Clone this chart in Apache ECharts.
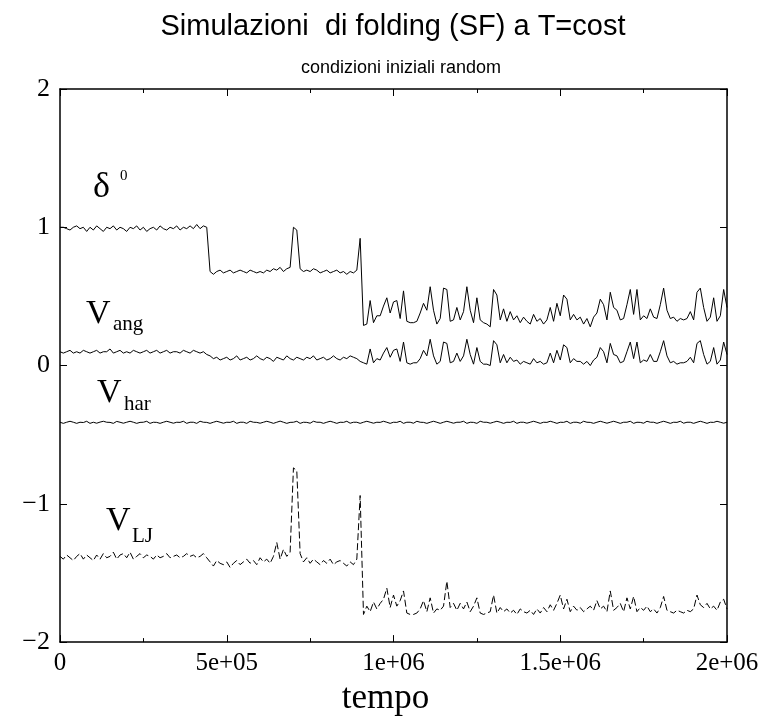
<!DOCTYPE html>
<html>
<head>
<meta charset="utf-8">
<script src="https://cdn.jsdelivr.net/npm/echarts@6/dist/echarts.min.js"></script>
<style>
  html, body { margin: 0; padding: 0; background: #fff; }
  #chart { width: 764px; height: 721px; }
</style>
</head>
<body>
<div id="chart"></div>
<script>
// Sampling step of the folding run (time units between stored frames)
const STEP = 1e4;

// Order parameter delta^0
const delta0 = [
  1.00,1.00,0.99,0.98,1.00,1.01,0.99,1.00,0.97,1.00,
  0.98,1.01,0.99,0.97,1.00,0.99,1.01,0.98,1.00,0.99,
  0.97,1.00,0.99,1.01,0.98,1.00,0.97,0.99,1.00,0.98,
  1.01,0.99,0.98,1.00,0.99,1.01,0.98,1.00,0.99,1.01,
  0.99,1.02,0.99,1.01,1.00,0.68,0.66,0.68,0.69,0.67,
  0.68,0.69,0.67,0.68,0.69,0.68,0.67,0.69,0.68,0.67,
  0.68,0.67,0.69,0.68,0.70,0.69,0.71,0.68,0.70,0.71,
  1.00,0.98,0.70,0.68,0.69,0.68,0.70,0.69,0.67,0.68,
  0.69,0.67,0.68,0.69,0.67,0.68,0.66,0.68,0.67,0.69,
  0.92,0.29,0.30,0.47,0.31,0.36,0.36,0.43,0.49,0.38,
  0.46,0.47,0.34,0.54,0.32,0.31,0.31,0.32,0.38,0.45,
  0.40,0.57,0.40,0.30,0.34,0.56,0.55,0.32,0.33,0.42,
  0.33,0.39,0.57,0.40,0.31,0.49,0.33,0.31,0.30,0.28,
  0.55,0.51,0.33,0.41,0.32,0.39,0.33,0.36,0.31,0.35,
  0.32,0.30,0.37,0.32,0.34,0.30,0.33,0.42,0.32,0.45,
  0.36,0.51,0.48,0.33,0.37,0.33,0.35,0.30,0.34,0.28,
  0.35,0.38,0.48,0.44,0.33,0.53,0.42,0.40,0.33,0.34,
  0.44,0.55,0.37,0.55,0.33,0.36,0.34,0.41,0.35,0.34,
  0.44,0.56,0.40,0.34,0.35,0.32,0.34,0.33,0.34,0.39,
  0.33,0.53,0.56,0.42,0.32,0.35,0.49,0.32,0.36,0.55,
  0.42
];

// Angular potential energy V_ang
const vAng = [
  0.10,0.09,0.10,0.11,0.09,0.10,0.09,0.11,0.10,0.09,
  0.10,0.11,0.09,0.10,0.10,0.12,0.09,0.10,0.11,0.09,
  0.10,0.09,0.11,0.10,0.09,0.10,0.11,0.09,0.10,0.11,
  0.09,0.10,0.11,0.09,0.10,0.10,0.09,0.11,0.10,0.09,
  0.11,0.10,0.09,0.10,0.08,0.07,0.05,0.06,0.04,0.05,
  0.06,0.04,0.05,0.07,0.04,0.05,0.06,0.04,0.05,0.07,
  0.05,0.04,0.06,0.05,0.03,0.06,0.05,0.04,0.07,0.05,
  0.04,0.06,0.05,0.04,0.06,0.05,0.07,0.04,0.05,0.06,
  0.04,0.05,0.07,0.05,0.04,0.06,0.05,0.07,0.06,0.05,
  0.03,0.02,0.01,0.12,0.02,0.05,0.04,0.09,0.13,0.06,
  0.11,0.12,0.03,0.17,0.02,0.01,0.02,0.02,0.05,0.11,
  0.07,0.19,0.07,0.01,0.03,0.17,0.16,0.02,0.03,0.09,
  0.03,0.07,0.19,0.08,0.01,0.13,0.03,0.01,0.01,0.00,
  0.18,0.15,0.02,0.08,0.02,0.06,0.03,0.04,0.01,0.03,
  0.02,0.01,0.05,0.02,0.03,0.01,0.02,0.09,0.02,0.11,
  0.04,0.15,0.13,0.02,0.05,0.03,0.03,0.01,0.03,0.00,
  0.04,0.06,0.13,0.10,0.02,0.16,0.08,0.07,0.02,0.03,
  0.10,0.17,0.05,0.17,0.02,0.04,0.03,0.08,0.03,0.03,
  0.10,0.18,0.07,0.02,0.03,0.01,0.02,0.02,0.03,0.06,
  0.02,0.16,0.18,0.08,0.01,0.03,0.13,0.01,0.04,0.17,
  0.08
];

// Harmonic (bond) potential energy V_har
const vHar = [
  -0.410,-0.418,-0.410,-0.403,-0.410,-0.418,-0.410,-0.412,-0.403,-0.418,
  -0.410,-0.417,-0.409,-0.403,-0.410,-0.411,-0.418,-0.404,-0.410,-0.417,
  -0.410,-0.403,-0.410,-0.418,-0.411,-0.410,-0.403,-0.418,-0.410,-0.411,
  -0.418,-0.410,-0.403,-0.410,-0.417,-0.410,-0.411,-0.403,-0.418,-0.410,
  -0.410,-0.418,-0.403,-0.410,-0.411,-0.418,-0.410,-0.403,-0.410,-0.417,
  -0.410,-0.411,-0.403,-0.418,-0.410,-0.410,-0.418,-0.403,-0.410,-0.411,
  -0.417,-0.410,-0.403,-0.410,-0.418,-0.410,-0.402,-0.410,-0.418,-0.411,
  -0.410,-0.403,-0.418,-0.410,-0.411,-0.417,-0.403,-0.410,-0.410,-0.418,
  -0.410,-0.403,-0.410,-0.418,-0.410,-0.411,-0.403,-0.417,-0.410,-0.410,
  -0.418,-0.410,-0.403,-0.410,-0.417,-0.410,-0.411,-0.403,-0.410,-0.418,
  -0.410,-0.411,-0.403,-0.418,-0.410,-0.410,-0.417,-0.403,-0.410,-0.411,
  -0.418,-0.410,-0.403,-0.410,-0.418,-0.410,-0.403,-0.410,-0.417,-0.410,
  -0.410,-0.403,-0.418,-0.410,-0.411,-0.418,-0.403,-0.410,-0.410,-0.417,
  -0.410,-0.403,-0.410,-0.418,-0.410,-0.411,-0.403,-0.418,-0.410,-0.410,
  -0.417,-0.410,-0.403,-0.410,-0.418,-0.410,-0.411,-0.403,-0.410,-0.418,
  -0.410,-0.411,-0.403,-0.418,-0.410,-0.410,-0.417,-0.403,-0.410,-0.411,
  -0.418,-0.410,-0.403,-0.410,-0.417,-0.410,-0.403,-0.410,-0.418,-0.410,
  -0.410,-0.403,-0.418,-0.410,-0.411,-0.417,-0.403,-0.410,-0.410,-0.418,
  -0.410,-0.403,-0.410,-0.418,-0.410,-0.411,-0.403,-0.417,-0.410,-0.410,
  -0.418,-0.410,-0.403,-0.410,-0.418,-0.410,-0.411,-0.403,-0.410,-0.417,
  -0.410
];

// Lennard-Jones potential energy V_LJ
const vLJ = [
  -1.38,-1.40,-1.37,-1.39,-1.41,-1.38,-1.36,-1.40,-1.37,-1.39,
  -1.41,-1.37,-1.40,-1.36,-1.39,-1.38,-1.35,-1.40,-1.37,-1.36,
  -1.39,-1.35,-1.40,-1.38,-1.36,-1.39,-1.37,-1.38,-1.40,-1.37,
  -1.39,-1.38,-1.36,-1.39,-1.38,-1.37,-1.39,-1.38,-1.36,-1.38,
  -1.37,-1.39,-1.38,-1.36,-1.39,-1.42,-1.45,-1.41,-1.43,-1.44,
  -1.42,-1.46,-1.43,-1.41,-1.44,-1.42,-1.40,-1.43,-1.41,-1.44,
  -1.39,-1.42,-1.40,-1.43,-1.38,-1.28,-1.40,-1.33,-1.38,-1.35,
  -0.74,-0.76,-1.36,-1.42,-1.39,-1.43,-1.40,-1.42,-1.44,-1.41,
  -1.43,-1.40,-1.44,-1.42,-1.41,-1.43,-1.45,-1.42,-1.44,-1.40,
  -0.94,-1.80,-1.74,-1.78,-1.71,-1.76,-1.72,-1.69,-1.61,-1.75,
  -1.66,-1.74,-1.70,-1.63,-1.79,-1.80,-1.80,-1.79,-1.76,-1.70,
  -1.78,-1.68,-1.79,-1.76,-1.77,-1.74,-1.56,-1.75,-1.72,-1.77,
  -1.72,-1.76,-1.71,-1.78,-1.74,-1.68,-1.79,-1.80,-1.79,-1.78,
  -1.66,-1.79,-1.75,-1.78,-1.76,-1.79,-1.77,-1.80,-1.76,-1.78,
  -1.79,-1.77,-1.80,-1.76,-1.79,-1.75,-1.78,-1.73,-1.77,-1.72,
  -1.66,-1.76,-1.69,-1.78,-1.74,-1.77,-1.75,-1.78,-1.76,-1.74,
  -1.77,-1.70,-1.76,-1.74,-1.78,-1.63,-1.77,-1.75,-1.72,-1.78,
  -1.68,-1.76,-1.67,-1.78,-1.75,-1.77,-1.74,-1.78,-1.76,-1.79,
  -1.75,-1.67,-1.77,-1.78,-1.79,-1.77,-1.78,-1.79,-1.77,-1.78,
  -1.76,-1.66,-1.73,-1.75,-1.72,-1.76,-1.74,-1.77,-1.71,-1.69,
  -1.76
];

// Axis ticks and their printed labels
const xTicks = [0, 500000, 1000000, 1500000, 2000000];
const xTickLabels = ['0', '5e+05', '1e+06', '1.5e+06', '2e+06'];
const yTicks = [-2, -1, 0, 1, 2];
const yTickLabels = ['\u22122', '\u22121', '0', '1', '2'];

const SERIF = '"Liberation Serif", "DejaVu Serif", serif';
const SANS = '"Liberation Sans", Arial, sans-serif';

function pairs(arr) {
  return arr.map((v, i) => [i * STEP, v]);
}

function labelFrom(ticks, labels) {
  return function (v) {
    const k = ticks.findIndex(t => Math.abs(t - v) < 1e-9);
    return k >= 0 ? labels[k] : '';
  };
}

const chart = echarts.init(document.getElementById('chart'), null, { renderer: 'canvas' });

const frameLine = { show: true, onZero: false, lineStyle: { color: '#000', width: 1.5 } };
const tick = { show: true, inside: true, length: 7, lineStyle: { color: '#000', width: 1 } };
const minor = { show: true, splitNumber: 2, length: 4, lineStyle: { color: '#000', width: 1 } };

// Label text drawn in the plot (symbol plus sub/superscript)
function labelText(x, y, text, size) {
  return { type: 'text', x: x, y: y, z: 10,
    style: { text: text, font: size + 'px ' + SERIF, fill: '#000', textVerticalAlign: 'top' } };
}

const option = {
  backgroundColor: '#fff',
  animation: false,
  grid: { left: 60, right: 37, top: 89, bottom: 77, show: false },
  xAxis: [
    {
      type: 'value', min: 0, max: 2000000, interval: 500000, position: 'bottom',
      axisLine: frameLine, axisTick: tick, minorTick: minor,
      splitLine: { show: false },
      axisLabel: { formatter: labelFrom(xTicks, xTickLabels), color: '#000', fontFamily: SERIF, fontSize: 25, margin: 9 },
      name: 'tempo', nameLocation: 'middle', nameGap: 36,
      nameTextStyle: { color: '#000', fontFamily: SERIF, fontSize: 35, verticalAlign: 'top', padding: [0, 16, 0, 0] }
    },
    {
      type: 'value', min: 0, max: 2000000, interval: 500000, position: 'top',
      axisLine: frameLine, axisTick: tick, minorTick: minor,
      splitLine: { show: false },
      axisLabel: { show: false }
    }
  ],
  yAxis: [
    {
      type: 'value', min: -2, max: 2, interval: 1, position: 'left',
      axisLine: frameLine, axisTick: tick,
      splitLine: { show: false },
      axisLabel: { formatter: labelFrom(yTicks, yTickLabels), color: '#000', fontFamily: SERIF, fontSize: 26, margin: 10 }
    },
    {
      type: 'value', min: -2, max: 2, interval: 1, position: 'right',
      axisLine: frameLine, axisTick: tick,
      splitLine: { show: false },
      axisLabel: { show: false }
    }
  ],
  series: [
    { name: 'delta0', type: 'line', data: pairs(delta0), showSymbol: false, symbol: 'none',
      lineStyle: { color: '#000', width: 1 } },
    { name: 'V_ang', type: 'line', data: pairs(vAng), showSymbol: false, symbol: 'none',
      lineStyle: { color: '#000', width: 1 } },
    { name: 'V_har', type: 'line', data: pairs(vHar), showSymbol: false, symbol: 'none',
      lineStyle: { color: '#000', width: 1 } },
    { name: 'V_LJ', type: 'line', data: pairs(vLJ), showSymbol: false, symbol: 'none',
      lineStyle: { color: '#000', width: 1, type: [7, 3] } }
  ],
  graphic: [
    { type: 'text', x: 393, y: 12, style: { text: 'Simulazioni  di folding (SF) a T=cost', font: '29px ' + SANS, fill: '#000', textAlign: 'center', textVerticalAlign: 'top' } },
    { type: 'text', x: 401, y: 59, style: { text: 'condizioni iniziali random', font: '18px ' + SANS, fill: '#000', textAlign: 'center', textVerticalAlign: 'top' } },

    labelText(93, 170, '\u03b4', 36),
    labelText(120, 169, '0', 15),

    labelText(86, 297, 'V', 34),
    labelText(113, 314, 'ang', 21),

    labelText(97, 376, 'V', 34),
    labelText(124, 394, 'har', 21),

    labelText(106, 504, 'V', 34),
    labelText(132, 526, 'LJ', 21)
  ]
};

chart.setOption(option);
</script>
</body>
</html>
